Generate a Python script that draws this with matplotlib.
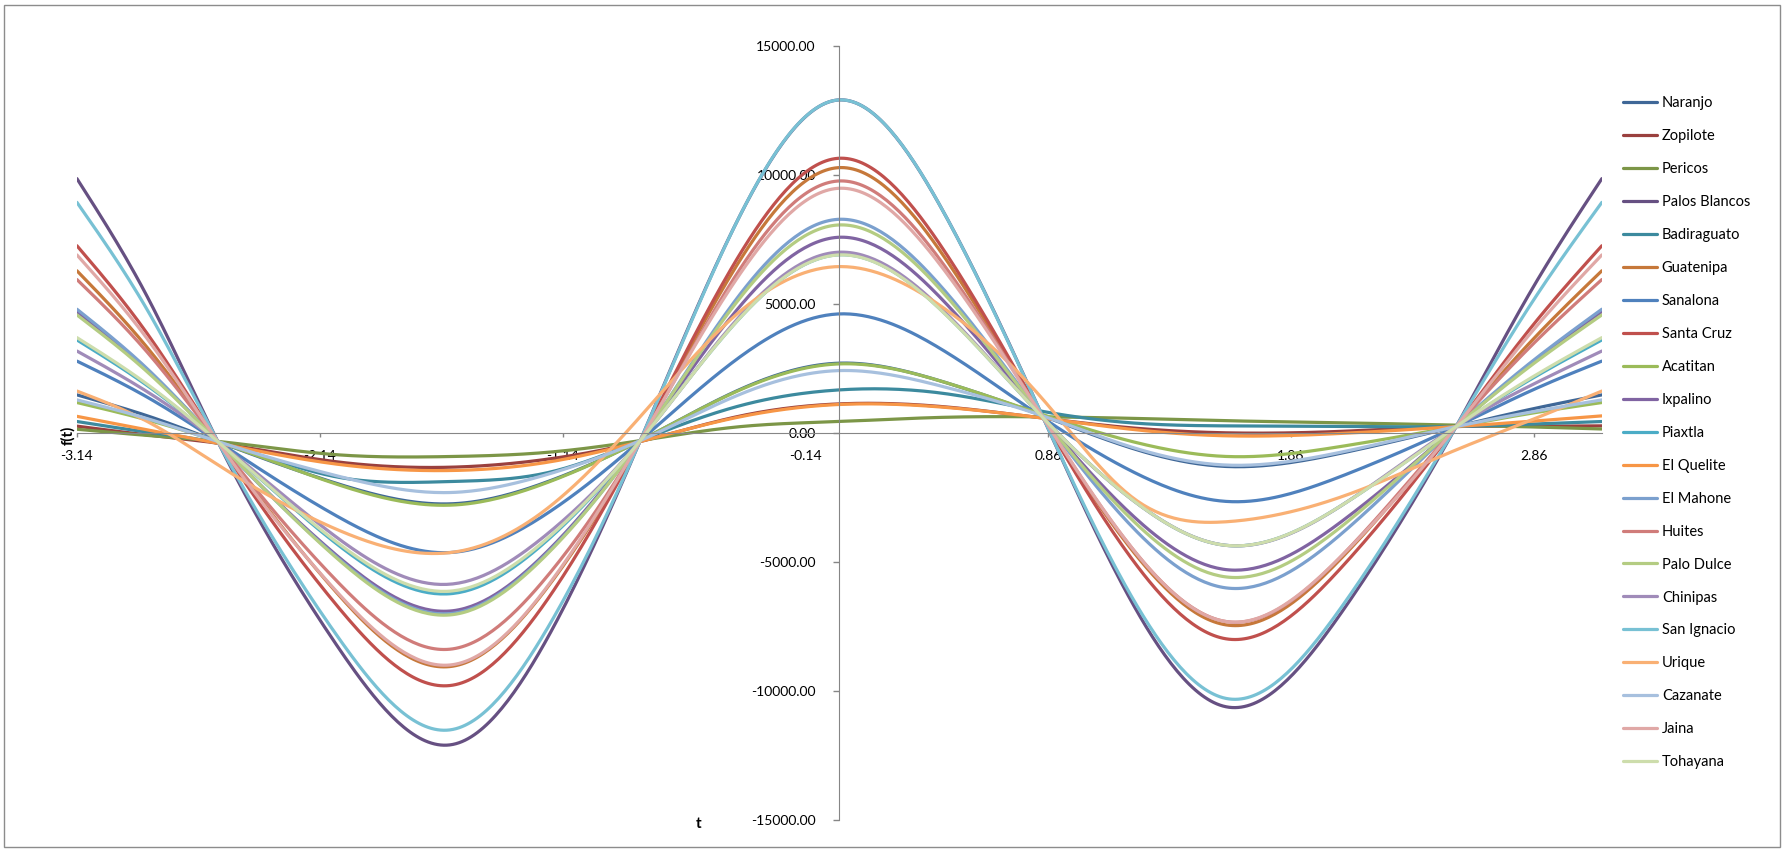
import matplotlib
matplotlib.use("Agg")
import matplotlib.pyplot as plt
from matplotlib.patches import Rectangle
import numpy as np

# sample points
t = [-3.14, -2.85, -2.56, -2.08, -1.6, -1.21, -0.82, -0.41, 0.0, 0.42,
     0.84, 1.22, 1.6, 2.07, 2.54, 2.85, 3.14]
x_ticks = [-3.14, -2.14, -1.14, -0.14, 0.86, 1.86, 2.86]
y_ticks = [-15000, -10000, -5000, 0, 5000, 10000, 15000]

names = ["Naranjo", "Zopilote", "Pericos", "Palos Blancos", "Badiraguato",
         "Guatenipa", "Sanalona", "Santa Cruz", "Acatitan", "Ixpalino",
         "Piaxtla", "El Quelite", "El Mahone", "Huites", "Palo Dulce",
         "Chinipas", "San Ignacio", "Urique", "Cazanate", "Jaina", "Tohayana"]

naranjo = [1472, 660, -336, -1930, -2750, -1920, -300, 1680, 2700, 2000, 650, -640, -1305, -780, 245, 920, 1472]
zopilote = [260, -80, -400, -1110, -1330, -1030, -336, 650, 1123, 1020, 570, 180, 0, 60, 245, 260, 271]
pericos = [140, -100, -330, -840, -917, -760, -300, 240, 440, 600, 620, 560, 470, 390, 300, 230, 150]
palos_blancos = [9850, 5270, -336, -8090, -12084, -8080, -300, 8410, 12900, 8710, 570, -6820, -10625, -6930, 245, 5530, 9850]
badiraguato = [440, 30, -400, -1690, -1885, -1560, -300, 1050, 1665, 1540, 826, 375, 270, 250, 245, 340, 439]
guatenipa = [6280, 3300, -336, -6090, -9050, -6080, -300, 6680, 10277, 6980, 570, -4720, -7450, -4830, 245, 3560, 6280]
sanalona = [2780, 1380, -336, -3170, -4635, -3160, -300, 2940, 4609, 3240, 570, -1560, -2660, -1670, 245, 1640, 2780]
santa_cruz = [7250, 3840, -336, -6570, -9785, -6560, -300, 6920, 10640, 7220, 570, -5080, -7990, -5190, 245, 4100, 7250]
acatitan = [1175, 500, -336, -1960, -2800, -1950, -300, 1660, 2672, 2000, 700, -370, -917, -520, 245, 760, 1175]
ixpalino = [4700, 2430, -336, -4670, -6900, -4660, -300, 4900, 7579, 5200, 570, -3310, -5306, -3420, 245, 2700, 4700]
piaxtla = [3600, 1830, -336, -4230, -6230, -4220, -300, 4450, 6900, 4750, 570, -2690, -4365, -2800, 245, 2090, 3600]
el_quelite = [640, 116, -400, -1200, -1459, -1150, -336, 620, 1100, 1000, 570, 120, -116, -20, 245, 450, 658]
el_mahone = [4790, 2480, -336, -4730, -7000, -4720, -300, 5360, 8275, 5660, 570, -3780, -6015, -3890, 245, 2750, 4790]
huites = [5940, 3120, -336, -5640, -8378, -5630, -300, 6340, 9760, 6640, 570, -4640, -7320, -4750, 245, 3380, 5940]
palo_dulce = [4570, 2360, -336, -4770, -7050, -4760, -300, 5220, 8056, 5510, 570, -3500, -5590, -3610, 245, 2620, 4570]
chinipas = [3170, 1590, -336, -3980, -5860, -3970, -300, 4520, 7000, 4810, 570, -2690, -4365, -2800, 245, 1850, 3170]
san_ignacio = [8930, 4760, -336, -7710, -11503, -7690, -300, 8410, 12900, 8710, 570, -6610, -10302, -6720, 245, 5020, 8930]
urique = [1620, 440, -1240, -3700, -4635, -2980, 630, 4700, 6442, 4900, 1278, -2595, -3440, -2470, -660, 500, 1620]
cazanate = [1278, 550, -336, -1640, -2311, -1630, -300, 1490, 2413, 1810, 650, -600, -1250, -740, 245, 810, 1278]
jaina = [6894, 3640, -336, -6050, -8990, -6040, -300, 6150, 9477, 6450, 570, -4640, -7320, -4750, 245, 3900, 6894]
tohayana = [3690, 1880, -336, -4160, -6130, -4150, -300, 4450, 6894, 4740, 570, -2690, -4365, -2800, 245, 2140, 3690]

series = [naranjo, zopilote, pericos, palos_blancos, badiraguato, guatenipa,
          sanalona, santa_cruz, acatitan, ixpalino, piaxtla, el_quelite,
          el_mahone, huites, palo_dulce, chinipas, san_ignacio, urique,
          cazanate, jaina, tohayana]

colors = ["#3F6797", "#9A403E", "#7C9647", "#665082", "#3C8A9E", "#C6783A",
          "#4F81BD", "#C0504D", "#9BBB59", "#8064A2", "#4BACC6", "#F79646",
          "#7BA0CE", "#D07C7A", "#B4CC82", "#A08BB9", "#78C1D4", "#F9B074",
          "#A7C0DE", "#E0A8A6", "#CDDDAC"]


def smooth(x, y, n=500):
    # natural cubic spline, like Excel's "smoothed line"
    x = np.asarray(x, float)
    y = np.asarray(y, float)
    h = np.diff(x)
    k = len(x)
    A = np.zeros((k, k))
    r = np.zeros(k)
    A[0, 0] = A[-1, -1] = 1.0
    for i in range(1, k - 1):
        A[i, i - 1] = h[i - 1]
        A[i, i] = 2 * (h[i - 1] + h[i])
        A[i, i + 1] = h[i]
        r[i] = 6 * ((y[i + 1] - y[i]) / h[i] - (y[i] - y[i - 1]) / h[i - 1])
    M = np.linalg.solve(A, r)
    xs = np.linspace(x[0], x[-1], n)
    j = np.clip(np.searchsorted(x, xs) - 1, 0, k - 2)
    hj = h[j]
    a = (x[j + 1] - xs) / hj
    b = (xs - x[j]) / hj
    ys = (a * y[j] + b * y[j + 1]
          + ((a ** 3 - a) * M[j] + (b ** 3 - b) * M[j + 1]) * hj ** 2 / 6)
    return xs, ys


plt.rcParams['font.family'] = ['Lato', 'DejaVu Sans']

fig = plt.figure(figsize=(17.85, 8.51), dpi=100)
ax = fig.add_axes([0.0431, 0.0364, 0.8543, 0.9099])

for name, vals, c in zip(names, series, colors):
    xs, ys = smooth(t, vals)
    ax.plot(xs, ys, color=c, lw=2.3, label=name, solid_capstyle='round')

ax.set_xlim(-3.14, 3.14)
ax.set_ylim(-15000, 15000)

for s in ['top', 'right']:
    ax.spines[s].set_visible(False)
ax.spines['left'].set_position(('data', 0))
ax.spines['bottom'].set_position(('data', 0))
ax.spines['left'].set_color('#868686')
ax.spines['bottom'].set_color('#868686')

ax.set_xticks(x_ticks)
ax.set_xticklabels([f"{v:.2f}" for v in x_ticks])
ax.set_yticks(y_ticks)
ax.set_yticklabels([f"{v:.2f}" for v in y_ticks])
ax.tick_params(axis='y', direction='out', length=4, width=1, color='#868686',
               pad=13, labelsize=10)
ax.tick_params(axis='x', direction='out', length=3, width=1, color='#868686',
               pad=9, labelsize=10)

ax.legend(loc='upper left', bbox_to_anchor=(0.9092, 0.8870),
          bbox_transform=fig.transFigure, frameon=False, fontsize=10.5,
          handlelength=2.33, handletextpad=0.34, labelspacing=1.30,
          borderpad=0, borderaxespad=0)

fig.text(68 / 1785, 1 - 435 / 851, "f(t)", rotation=90, fontsize=11,
         fontweight='bold', ha='center', va='center')
fig.text(699 / 1785, 1 - 824 / 851, "t", fontsize=11, fontweight='bold',
         ha='center', va='center')

fig.patches.append(Rectangle((4 / 1785, 4 / 851), 1 - 9 / 1785, 1 - 9 / 851,
                             transform=fig.transFigure, fill=False,
                             edgecolor='#8C8C8C', lw=1))

fig.savefig("out.png", dpi=100)
